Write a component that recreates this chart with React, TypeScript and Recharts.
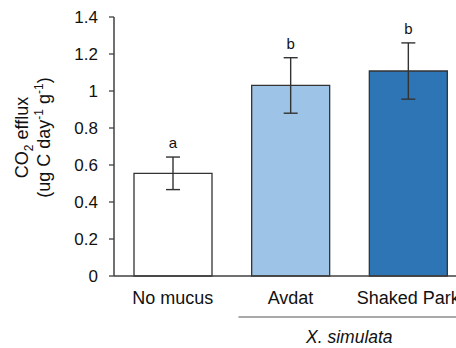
import React from "react";
import { BarChart, Bar, XAxis, YAxis, Cell, ErrorBar, LabelList } from "recharts";

const categories = ["No mucus", "Avdat", "Shaked Park"];
const means = [0.555, 1.03, 1.108];
const errors = [0.088, 0.15, 0.152];
const letters = ["a", "b", "b"];
const groups = ["", "X. simulata", "X. simulata"];
const colors = ["#FFFFFF", "#9DC3E6", "#2E75B6"];
const yTicks = [0, 0.2, 0.4, 0.6, 0.8, 1, 1.2, 1.4];

const data = categories.map((name, i) => ({
  name,
  mean: means[i],
  err: errors[i],
  letter: letters[i],
  group: groups[i],
}));

const W = 480;
const H = 348;
const M = { top: 17, right: 13, bottom: 0, left: 0 };
const XH = 72;
const YW = 114;
const BW = (W - M.left - M.right - YW) / categories.length;
const FONT = "'Liberation Sans', Arial, sans-serif";
const TXT = "#111111";
const AX = "#404040";

const XTick = (props: any) => {
  const { x, y, payload, index } = props;
  const g = groups[index];
  const isStart = g && (index === 0 || groups[index - 1] !== g);
  let span = 0;
  if (isStart) {
    for (let j = index; j < groups.length && groups[j] === g; j++) span++;
  }
  return (
    <g>
      <text x={x} y={y + 28} textAnchor="middle" fontSize={18} fontFamily={FONT} fill={TXT}>
        {payload.value}
      </text>
      {isStart ? (
        <g>
          <line
            x1={x - 52}
            x2={x + BW * (span - 1) + 52}
            y1={y + 41}
            y2={y + 41}
            stroke="#8c8c8c"
            strokeWidth={1.3}
          />
          <text
            x={x + (BW * (span - 1)) / 2}
            y={y + 67}
            textAnchor="middle"
            fontSize={17.5}
            fontStyle="italic"
            fontFamily={FONT}
            fill={TXT}
          >
            {g}
          </text>
        </g>
      ) : null}
    </g>
  );
};

const LetterLabel = (props: any) => {
  const { x, y, width, height, value, index } = props;
  const d = data[index];
  if (!d) return null;
  const ppu = height / d.mean;
  const top = y - d.err * ppu;
  return (
    <text x={x + width / 2} y={top - 9} textAnchor="middle" fontSize={15} fontFamily={FONT} fill={TXT}>
      {value}
    </text>
  );
};

const YLabel = (props: any) => {
  const vb = props.viewBox || { x: 0, y: 0, width: 0, height: 0 };
  const cy = vb.y + vb.height / 2 - 9;
  const x1 = vb.x + 28;
  const x2 = vb.x + 50;
  return (
    <g fontFamily={FONT} fill={TXT} fontSize={18}>
      <text transform={`translate(${x1},${cy}) rotate(-90)`} textAnchor="middle">
        <tspan>CO</tspan>
        <tspan fontSize={12} dy={5}>2</tspan>
        <tspan dy={-5}> efflux</tspan>
      </text>
      <text transform={`translate(${x2},${cy}) rotate(-90)`} textAnchor="middle">
        <tspan>(ug C day</tspan>
        <tspan fontSize={12} dy={-7}>-1</tspan>
        <tspan dy={7}> g</tspan>
        <tspan fontSize={12} dy={-7}>-1</tspan>
        <tspan dy={7}>)</tspan>
      </text>
    </g>
  );
};

export default function App() {
  return (
    <div
      style={{
        position: "absolute",
        left: 0,
        top: 0,
        width: 456,
        height: 348,
        overflow: "hidden",
        background: "#fff",
      }}
    >
      <BarChart width={W} height={H} data={data} margin={M}>
        <XAxis
          dataKey="name"
          height={XH}
          tickLine={false}
          tickSize={0}
          tickMargin={0}
          interval={0}
          axisLine={{ stroke: AX, strokeWidth: 1.5 }}
          tick={<XTick />}
        />
        <YAxis
          width={YW}
          domain={[0, 1.4]}
          ticks={yTicks}
          interval={0}
          tickSize={5}
          tickMargin={11}
          axisLine={{ stroke: AX, strokeWidth: 1.5 }}
          tickLine={{ stroke: AX, strokeWidth: 1.3 }}
          tick={{ fontSize: 17, fontFamily: FONT, fill: TXT }}
          label={<YLabel />}
        />
        <Bar dataKey="mean" barSize={78} stroke="#333333" strokeWidth={1.3} isAnimationActive={false}>
          {data.map((d, i) => (
            <Cell key={d.name} fill={colors[i]} />
          ))}
          <ErrorBar dataKey="err" width={7} stroke="#333333" strokeWidth={1.4} direction="y" isAnimationActive={false} />
          <LabelList dataKey="letter" content={<LetterLabel />} />
        </Bar>
      </BarChart>
    </div>
  );
}
